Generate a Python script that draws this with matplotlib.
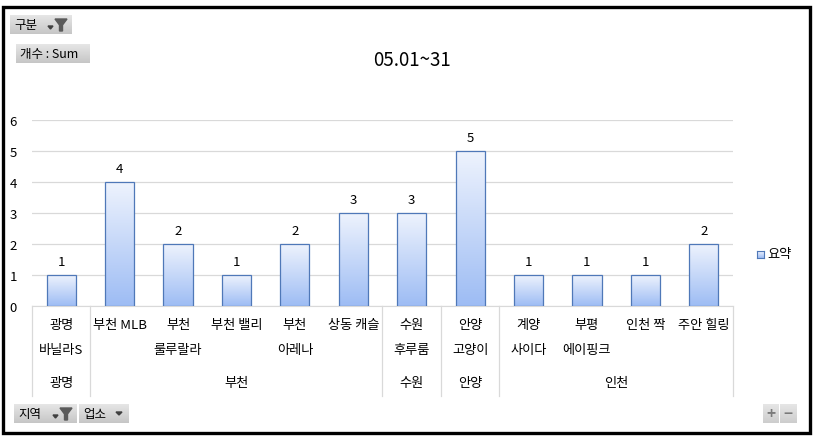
import matplotlib

matplotlib.use("Agg")
import matplotlib.pyplot as plt  # noqa: E402
import numpy as np  # noqa: E402
from matplotlib.colors import LinearSegmentedColormap  # noqa: E402
from matplotlib.patches import Polygon, Rectangle  # noqa: E402

plt.rcParams["font.family"] = ["Noto Sans CJK KR", "DejaVu Sans"]

W, H = 816, 439

# data
regions = ["광명", "부천", "수원", "안양", "인천"]
region_sizes = [1, 5, 1, 1, 4]
stores = [
    "광명\n바닐라S", "부천 MLB", "부천\n룰루랄라", "부천 밸리", "부천\n아레나", "상동 캐슬",
    "수원\n후루룸", "안양\n고양이", "계양\n사이다", "부평\n에이핑크", "인천 짝", "주안 힐링",
]
values = [1, 4, 2, 1, 2, 3, 3, 5, 1, 1, 1, 2]
yticks = [0, 1, 2, 3, 4, 5, 6]
title = "05.01~31"
legend_label = "요약"

bar_edge = "#4f78b8"
grad = LinearSegmentedColormap.from_list("bar", ["#9dbcf4", "#eef3fd"])
grid_c = "#d9d9d9"


def fx(x):
    return x / W


def fy(y):
    return 1 - y / H


fig = plt.figure(figsize=(W / 100, H / 100), dpi=100)

# plot area in pixels: x 32..733, y(0)=307, y(6)=121
ax = fig.add_axes([fx(32), fy(307), (733 - 32) / W, (307 - 121) / H])
n = len(stores)
ax.set_yticks(yticks)
ax.yaxis.grid(True, color=grid_c, linewidth=0.9)
ax.set_axisbelow(True)
ax.set_xticks([])
for s in ["top", "right", "left"]:
    ax.spines[s].set_visible(False)
ax.spines["bottom"].set_color(grid_c)
ax.tick_params(axis="y", length=0, pad=11, labelsize=9.5)

gradient = np.linspace(0, 1, 256).reshape(-1, 1)
bars = ax.bar(range(n), values, width=0.5, facecolor="none", edgecolor=bar_edge,
              linewidth=0.9, zorder=3)
for rect, v in zip(bars, values):
    x0 = rect.get_x()
    im = ax.imshow(gradient, cmap=grad, aspect="auto", origin="lower",
                   extent=[x0, x0 + rect.get_width(), 0, v], zorder=2)
    im.set_clip_path(rect)
    ax.annotate(str(v), (rect.get_x() + rect.get_width() / 2, v), xytext=(0, 5),
                textcoords="offset points", ha="center", va="bottom", fontsize=9.5)
ax.set_xlim(-0.5, n - 0.5)
ax.set_ylim(yticks[0], yticks[-1])

# category labels below the axis
trans = ax.get_xaxis_transform()
for i, name in enumerate(stores):
    for j, line in enumerate(name.split("\n")):
        ax.text(i, -(326 + 25 * j - 307) / (307 - 121), line,
                transform=trans, ha="center", va="center", fontsize=9.5)

# group labels and separators
edges = np.concatenate([[0], np.cumsum(region_sizes)]) - 0.5
for k, reg in enumerate(regions):
    mid = (edges[k] + edges[k + 1]) / 2
    ax.text(mid, -(384 - 307) / (307 - 121), reg, transform=trans,
            ha="center", va="center", fontsize=9.5)
for e in edges:
    ax.plot([e, e], [0, -(397 - 307) / (307 - 121)], transform=trans,
            color=grid_c, linewidth=0.9, clip_on=False)

fig.text(fx(412), fy(60), title, ha="center", va="center", fontsize=13.5)

# legend
leg = fig.add_axes([fx(757), fy(259), 7 / W, 7 / H])
leg.imshow(gradient, cmap=grad, aspect="auto", origin="lower")
leg.set_xticks([])
leg.set_yticks([])
for s in leg.spines.values():
    s.set_color(bar_edge)
    s.set_linewidth(0.8)
fig.text(fx(767), fy(255), legend_label, ha="left", va="center", fontsize=9.5)

btn_grad = LinearSegmentedColormap.from_list("b", ["#c6c6c6", "#e6e6e6"])


def button(x0, y0, x1, y1, label, funnel=False, arrow=False):
    bax = fig.add_axes([fx(x0), fy(y1), (x1 - x0) / W, (y1 - y0) / H])
    bax.imshow(gradient, cmap=btn_grad, aspect="auto", origin="lower", extent=[0, 1, 0, 1])
    bax.axis("off")
    fig.text(fx(x0 + 4), fy((y0 + y1) / 2), label, ha="left", va="center", fontsize=9)
    if funnel:
        f0 = x1 - 17
        pts = [(f0, y0 + 4), (f0 + 12, y0 + 4), (f0 + 7.5, y0 + 10),
               (f0 + 7.5, y1 - 3), (f0 + 4.5, y1 - 3), (f0 + 4.5, y0 + 10)]
        fig.patches.append(Polygon([(fx(a), fy(b)) for a, b in pts], closed=True,
                                   transform=fig.transFigure, color="#5a5a5a"))
        a0 = f0 - 7
        pts = [(a0, y1 - 8), (a0 + 5, y1 - 8), (a0 + 2.5, y1 - 5)]
        fig.patches.append(Polygon([(fx(a), fy(b)) for a, b in pts], closed=True,
                                   transform=fig.transFigure, color="#404040"))
    if arrow:
        a0 = x1 - 13
        pts = [(a0, y0 + 8), (a0 + 6, y0 + 8), (a0 + 3, y0 + 11)]
        fig.patches.append(Polygon([(fx(a), fy(b)) for a, b in pts], closed=True,
                                   transform=fig.transFigure, color="#404040"))


button(10, 16, 72, 35, "구분", funnel=True)
button(16, 45, 90, 64, "개수 : Sum")
button(14, 405, 77, 424, "지역", funnel=True)
button(79, 405, 129, 424, "업소", arrow=True)
for x0, sym in [(763, "+"), (780, "−")]:
    bax = fig.add_axes([fx(x0), fy(424), 16 / W, 19 / H])
    bax.imshow(gradient, cmap=LinearSegmentedColormap.from_list("p", ["#cdcdcd", "#e6e6e6"]),
               aspect="auto", origin="lower", extent=[0, 1, 0, 1])
    bax.axis("off")
    fig.text(fx(x0 + 8), fy(414.5), sym, ha="center", va="center", fontsize=11,
             color="#7a7a7a", fontweight="bold")

# outer chart border
fig.patches.append(Rectangle((fx(2.5), fy(433.5)), fx(810) - fx(2.5), fy(8) - fy(433.5),
                             transform=fig.transFigure, fill=False, edgecolor="black",
                             linewidth=2.4))

fig.savefig("out.png", dpi=100)
